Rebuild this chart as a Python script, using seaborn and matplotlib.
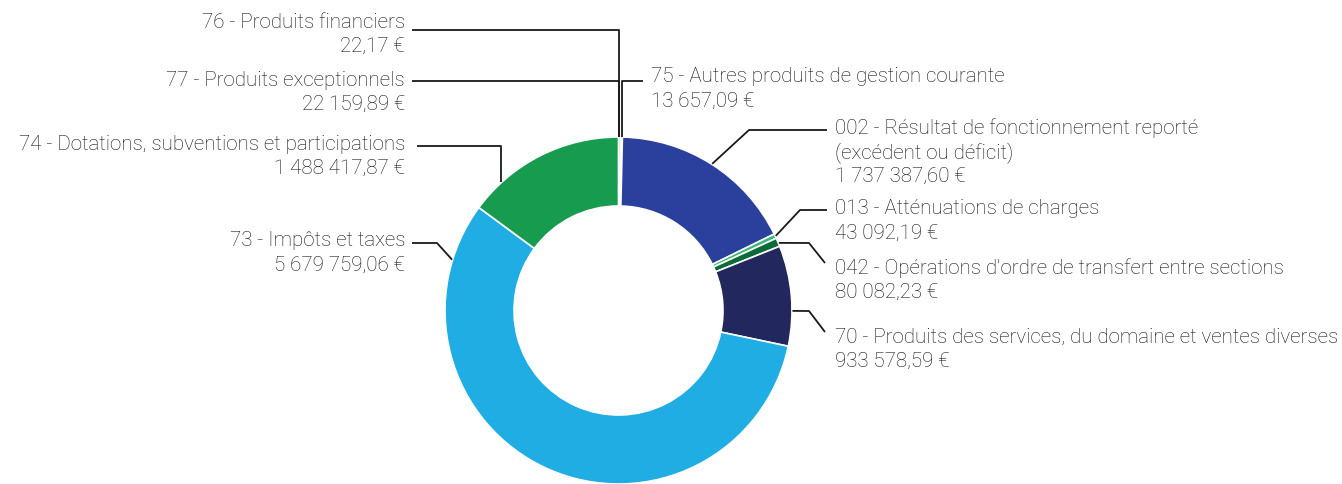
import numpy as np
import matplotlib.pyplot as plt
import seaborn as sns

# recettes de fonctionnement, dans l'ordre du graphique (sens horaire depuis midi)
codes = ["76", "77", "75", "002", "013", "042", "70", "73", "74"]
libelles = [
    "Produits financiers",
    "Produits exceptionnels",
    "Autres produits de gestion courante",
    "Résultat de fonctionnement reporté\n(excédent ou déficit)",
    "Atténuations de charges",
    "Opérations d'ordre de transfert entre sections",
    "Produits des services, du domaine et ventes diverses",
    "Impôts et taxes",
    "Dotations, subventions et participations",
]
montants = [22.17, 22159.89, 13657.09, 1737387.60, 43092.19, 80082.23,
            933578.59, 5679759.06, 1488417.87]
couleurs = ["#9fd89a", "#9fd89a", "#9fd89a", "#2a409c", "#34b97a",
            "#0d6b37", "#22285e", "#1fade4", "#179b4f"]

# placement des étiquettes : fraction dans la part, coude, fin de trait, texte
# coude x=None -> trait vertical depuis le bord de l'anneau
placement = {
    "76": (0.5, (None, 30), (412, 30), 405, 22, "right"),
    "77": (0.0, (None, 81), (412, 81), 405, 80, "right"),
    "75": (0.5, (None, 81), (643, 81), 651, 77, "left"),
    "002": (0.5, (749, 130), (827, 130), 835, 128, "left"),
    "013": (0.5, (800, 210), (827, 210), 835, 209, "left"),
    "042": (0.6, (809, 243), (825, 263), 835, 268, "left"),
    "70": (0.65, (809, 311), (825, 332), 835, 337, "left"),
    "73": (0.905, (437, 243), (412, 243), 405, 241, "right"),
    "74": (0.21, (None, 146), (417, 146), 405, 144, "right"),
}


def euros(v):
    s = f"{v:,.2f}".replace(",", " ").replace(".", ",")
    return s + " €"


sns.set_theme(style="white")
plt.rcParams['font.family'] = ['Roboto', 'DejaVu Sans']

W, H = 1342, 484
fig = plt.figure(figsize=(W / 100, H / 100), dpi=100)
ax = fig.add_axes([0, 0, 1, 1])

cx, cy, R = 618.5, 310.5, 173.5
palette = sns.color_palette(couleurs)
wedges, _ = ax.pie(montants, colors=palette, startangle=-90, counterclock=True,
                   radius=R, center=(cx, cy),
                   wedgeprops=dict(width=69, edgecolor="white", linewidth=1.2))

ax.set_xlim(0, W)
ax.set_ylim(H, 0)
ax.set_aspect("equal")
ax.axis("off")

for w, code, lib, v in zip(wedges, codes, libelles, montants):
    f, coude, fin, tx, ty, ha = placement[code]
    a = np.deg2rad(w.theta1 + f * (w.theta2 - w.theta1))
    sx, sy = cx + (R + 0.5) * np.cos(a), cy + (R + 0.5) * np.sin(a)
    ex = sx if coude[0] is None else coude[0]
    ax.plot([sx, ex, fin[0]], [sy, coude[1], fin[1]], color="#1a1a1a",
            lw=1.3, solid_capstyle="butt", zorder=3)
    lignes = (code + " - " + lib).split("\n") + [euros(v)]
    for i, t in enumerate(lignes):
        ax.text(tx, ty + i * 24.3, t, ha=ha, va="center", fontsize=14.75,
                fontweight="light", color="#111111")

plt.savefig("out.png", dpi=100)
